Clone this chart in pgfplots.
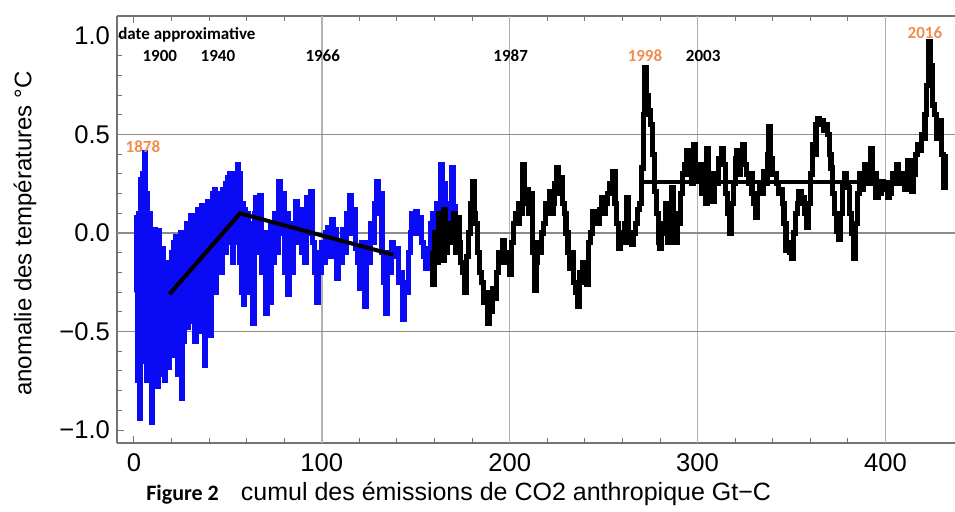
\documentclass[border=0pt]{standalone}
\usepackage{fontspec}
\setmainfont{Liberation Sans}
\newfontfamily\carlito{Carlito}
\usepackage{pgfplots}
\pgfplotsset{compat=1.18}
\definecolor{myorange}{RGB}{240,140,80}
\definecolor{myblue}{RGB}{10,10,245}
\begin{document}
\begin{tikzpicture}
\begin{axis}[
  scale only axis, width=419pt, height=213.5pt,
  xmin=-9, xmax=437, ymin=-1.066, ymax=1.102,
  axis x line=box, axis y line=left, y axis line style={-},
  axis line style={black!55, line width=0.6pt},
  xtick={0,100,200,300,400}, xticklabels={0,100,200,300,400},
  ytick={-1,-0.5,0,0.5,1}, yticklabels={−1.0,−0.5,0.0,0.5,1.0},
  minor x tick num=4, minor y tick num=4,
  tick align=inside, major tick length=3.5pt, minor tick length=2.5pt,
  every tick/.style={black!55, line width=0.5pt},
  tick label style={font=\fontsize{12.8}{14}\selectfont},
  xticklabel style={yshift=-2pt},
  extra x ticks={100,200,300,400}, extra x tick labels={},
  extra x tick style={grid=major, major tick length=0pt, major grid style={black!30, line width=0.7pt}},
  extra y ticks={-0.5,0,0.5}, extra y tick labels={},
  extra y tick style={grid=major, major tick length=0pt, major grid style={black!45, line width=0.7pt}},
]
\coordinate (O) at (rel axis cs:0,0);
\coordinate (L) at (rel axis cs:0,0.49);
% blue series
\addplot[myblue, const plot, line width=2.6pt, line join=miter] coordinates {
(1,-0.3)(1.5,0.08)(2,-0.75)(2.5,0.1)(3,-0.94)(3.5,0.27)(4,-0.6)(4.5,0.3)(5,-0.5)(5.5,0.41)(6,-0.65)(6.5,0.2)(7,-0.75)(7.5,0.02)(8,-0.55)(8.5,0.1)(9,-0.72)(9.5,-0.96)(10,-0.1)(10.5,-0.7)(11,0.02)(11.5,-0.5)(12,-0.1)(12.5,-0.78)(13,0.01)(13.5,-0.6)(14,-0.2)(14.5,-0.72)(15,-0.08)(15.5,-0.55)(16,-0.2)(16.5,-0.75)(17,-0.15)(17.5,-0.6)(18,-0.25)(18.5,-0.68)(19,-0.3)(19.5,-0.55)(20,-0.1)(20.5,-0.5)(21,-0.05)(21.5,-0.62)(22,-0.02)(22.5,-0.45)(23,-0.08)(23.5,-0.72)(24,-0.05)(24.5,-0.4)(25,0.0)(25.5,-0.84)(26,-0.1)(26.5,-0.55)(27,-0.03)(27.5,-0.35)(28,0.05)(28.5,-0.48)(29,0.0)(29.5,-0.3)(30,0.09)(30.5,-0.45)(31,0.02)(31.5,-0.3)(32,0.09)(32.5,-0.55)(33,0.0)(33.5,-0.25)(34,0.12)(34.5,-0.5)(35,0.05)(35.5,-0.2)(36,0.14)(36.5,-0.35)(37,0.06)(37.5,-0.67)(38,0.0)(38.5,-0.25)(39,0.16)(39.5,-0.15)(40,0.1)(40.5,-0.52)(41,0.05)(41.5,-0.2)(42,0.2)(42.5,-0.1)(43,0.22)(43.5,-0.3)(44,0.12)(44.5,-0.05)(45,0.2)(45.5,-0.15)(46,0.17)(46.5,-0.2)(47,0.22)(47.5,0.0)(48,0.18)(48.5,-0.1)(49,0.25)(49.5,-0.02)(50,0.28)(50.5,0.05)(51,0.3)(51.5,-0.05)(52,0.2)(52.5,-0.15)(53,0.25)(53.5,0.02)(54,0.3)(54.5,-0.05)(55,0.35)(55.5,0.0)(56,0.3)(56.5,-0.15)(57,0.1)(57.5,-0.3)(58,0.15)(58.5,-0.36)(59,0.12)(59.5,-0.2)
(60,0.1)(61,-0.3)(62,0.05)(63,-0.46)(64,0.1)(65,0.18)(66,-0.1)(67,0.19)(68,-0.2)(69,0.0)(70,-0.41)(71,-0.1)(72,-0.35)(73,0.05)(74,-0.15)(75,0.1)(76,-0.1)(77,0.26)(78,0.0)(79,0.2)(80,-0.2)(81,0.1)(82,-0.31)(83,0.05)(84,-0.2)
(85,0.0)(86,0.16)(87,-0.05)(88,0.12)(89,-0.1)(90,0.1)(91,-0.15)(92,0.18)(93,0.0)(94,0.21)(95,-0.05)(96,-0.2)(97,-0.35)(98,-0.1)(99,-0.2)(100,-0.05)(101,-0.15)(102,0.0)(103,0.03)(104,-0.12)(105,0.07)(106,-0.1)(107,0.02)(108,-0.23)(109,-0.05)(110,-0.15)(111,0.02)(112,-0.1)(113,0.1)(114,0.0)(115,0.19)(116,0.08)(117,0.12)(118,-0.08)(119,-0.15)(120,-0.28)(121,-0.05)(122,-0.2)(123,-0.37)(124,-0.05)(125,-0.15)(126,0.05)(127,-0.05)(128,0.15)(129,0.26)(130,0.1)(131,0.2)(132,-0.1)(133,-0.25)(134,-0.41)(135,-0.1)(136,-0.2)(137,-0.05)(138,-0.1)(139,-0.12)(140,-0.08)(141,-0.25)(142,-0.2)(143,-0.44)(144,-0.25)(145,-0.3)(146,-0.1)(147,0.0)(148,0.1)(149,0.05)(150,0.11)(151,0.0)(152,0.08)(153,-0.05)(154,-0.12)(155,-0.18)(156,-0.08)(157,-0.15)(158,0.05)(159,0.1)(160,0.0)(161,0.15)(162,0.05)(163,0.35)(164,0.1)(165,0.25)(166,-0.05)(167,0.15)(168,0.05)(169,0.33)(170,0.1)(171,0.15)
};
% black series
\addplot[black, const plot, line width=2.6pt, line join=miter] coordinates {
(158,-0.1)(159,-0.26)(160,0.0)(161,-0.15)(162,0.1)(163,-0.05)(164,-0.14)(165,0.12)(166,-0.1)(167,0.05)(168,-0.05)(169,0.0)(170,0.1)(171,-0.1)(172,0.08)(173,-0.05)(174,-0.15)(175,-0.2)(176,-0.3)(177,-0.12)(178,0.0)(179,0.15)(180,0.26)(181,0.1)(182,0.05)(183,-0.1)(184,-0.2)(185,-0.25)(186,-0.35)(187,-0.3)(188,-0.46)(189,-0.35)(190,-0.4)(191,-0.28)(192,-0.33)(193,-0.2)(194,-0.1)(195,-0.15)(196,-0.04)(197,-0.1)(198,-0.15)(199,-0.1)(200,-0.21)(201,-0.05)(202,0.05)(203,0.1)(204,0.05)(205,0.15)(206,0.1)(207,0.35)(208,0.15)(209,0.22)(210,0.1)(211,0.2)(212,-0.1)(213,-0.29)(214,-0.15)(215,-0.05)(216,-0.1)(217,0.0)(218,0.05)(219,0.15)(220,0.1)(221,0.21)(222,0.1)(223,0.15)(224,0.25)(225,0.33)(226,0.2)(227,0.28)(228,0.15)(229,0.1)(230,0.0)(231,-0.1)(232,-0.18)(233,-0.1)(234,-0.25)(235,-0.3)(236,-0.37)(237,-0.2)(238,-0.25)(239,-0.15)(240,-0.2)(241,-0.26)(242,-0.05)(243,0.0)(244,0.11)(245,0.05)(246,0.1)(247,0.05)(248,0.12)(249,0.18)(250,0.1)(251,0.15)(252,0.2)(253,0.25)(254,0.2)(255,0.31)(256,0.15)(257,0.05)(258,-0.08)(259,0.0)(260,-0.05)(261,0.05)(262,0.18)(263,0.0)(264,-0.05)(265,-0.06)(266,0.0)(267,0.05)(268,0.12)(269,0.15)(270,0.33)(271,0.6)(272,0.84)(273,0.7)(274,0.62)(275,0.55)(276,0.4)(277,0.21)(278,0.1)(279,-0.05)(280,-0.08)(281,0.05)(282,0.0)(283,0.15)(284,-0.05)(285,0.0)(286,0.23)(287,0.05)(288,-0.05)(289,0.1)(290,0.05)(291,0.2)(292,0.3)(293,0.35)(294,0.42)(295,0.3)(296,0.38)(297,0.25)(298,0.45)(299,0.35)(300,0.28)(301,0.35)(302,0.2)(303,0.3)(304,0.15)(305,0.43)(306,0.3)(307,0.2)(308,0.16)(309,0.3)(310,0.25)(311,0.38)(312,0.35)(313,0.43)(314,0.35)(315,0.2)(316,0.1)(317,0.0)(318,0.15)(319,0.25)(320,0.38)(321,0.42)(322,0.3)(323,0.38)(324,0.45)(325,0.35)(326,0.3)(327,0.25)(328,0.3)(329,0.2)(330,0.15)(331,0.08)(332,0.2)(333,0.25)(334,0.2)(335,0.31)(336,0.25)(337,0.4)(338,0.54)(339,0.38)(340,0.3)(341,0.3)(342,0.25)(343,0.2)(344,0.22)(345,0.15)(346,0.05)(347,-0.09)(348,-0.05)(349,-0.1)(350,-0.13)(351,0.0)(352,0.1)(353,0.15)(354,0.21)(355,0.15)(356,0.18)(357,0.1)(358,0.03)(359,0.15)(360,0.3)(361,0.45)(362,0.4)(363,0.55)(364,0.58)(365,0.55)(366,0.57)(367,0.52)(368,0.55)(369,0.5)(370,0.4)(371,0.33)(372,0.2)(373,0.1)(374,0.01)(375,-0.03)(376,0.1)(377,0.25)(378,0.3)(379,0.25)(380,0.23)(381,0.1)(382,0.0)(383,-0.13)(384,0.05)(385,0.2)(386,0.3)(387,0.22)(388,0.3)(389,0.35)(390,0.25)(391,0.3)(392,0.43)(393,0.25)(394,0.3)(395,0.18)(396,0.25)(397,0.2)(398,0.26)(399,0.22)(400,0.25)(401,0.18)(402,0.2)(403,0.25)(404,0.3)(405,0.25)(406,0.35)(407,0.25)(408,0.3)(409,0.28)(410,0.22)(411,0.3)(412,0.37)(413,0.3)(414,0.21)(415,0.3)(416,0.4)(417,0.45)(418,0.42)(419,0.5)(420,0.48)(421,0.6)(422,0.75)(423,0.97)(424,0.85)(425,0.65)(426,0.6)(427,0.48)(428,0.55)(429,0.57)(430,0.4)(431,0.23)(432,0.4)
};
% trend lines
\addplot[black, line width=2pt] coordinates {(19,-0.31)(56.5,0.10)(138,-0.11)};
\addplot[black, line width=1.8pt] coordinates {(270,0.26)(414,0.26)};
% annotations
\node[font=\carlito\bfseries\fontsize{8.5}{10}\selectfont, anchor=west, inner sep=0pt] at (axis cs:-8.5,1.005) {date approximative};
\node[font=\carlito\bfseries\fontsize{8.5}{10}\selectfont] at (axis cs:13.8,0.9) {1900};
\node[font=\carlito\bfseries\fontsize{8.5}{10}\selectfont] at (axis cs:44.7,0.9) {1940};
\node[font=\carlito\bfseries\fontsize{8.5}{10}\selectfont] at (axis cs:100.5,0.9) {1966};
\node[font=\carlito\bfseries\fontsize{8.5}{10}\selectfont] at (axis cs:200.5,0.9) {1987};
\node[font=\carlito\bfseries\fontsize{8.5}{10}\selectfont, text=myorange] at (axis cs:272,0.9) {1998};
\node[font=\carlito\bfseries\fontsize{8.5}{10}\selectfont] at (axis cs:303,0.9) {2003};
\node[font=\carlito\bfseries\fontsize{8.5}{10}\selectfont, text=myorange] at (axis cs:421,1.015) {2016};
\node[font=\carlito\bfseries\fontsize{8.5}{10}\selectfont, text=myorange] at (axis cs:4.8,0.44) {1878};
\end{axis}
\node[rotate=90, font=\fontsize{12}{14}\selectfont] at ([xshift=-46pt]L) {anomalie des températures °C};
\node[anchor=base west, inner sep=0pt] at ([xshift=14.5pt, yshift=-28.5pt]O) {{\carlito\bfseries\fontsize{11}{13}\selectfont Figure 2}\hspace{11pt}{\fontsize{12.5}{14}\selectfont cumul des émissions de CO2 anthropique Gt−C}};
\pgfresetboundingbox
\path[use as bounding box] ([xshift=-58.5pt,yshift=-34pt]O) rectangle ([xshift=419pt,yshift=221.5pt]O);
\end{tikzpicture}
\end{document}
